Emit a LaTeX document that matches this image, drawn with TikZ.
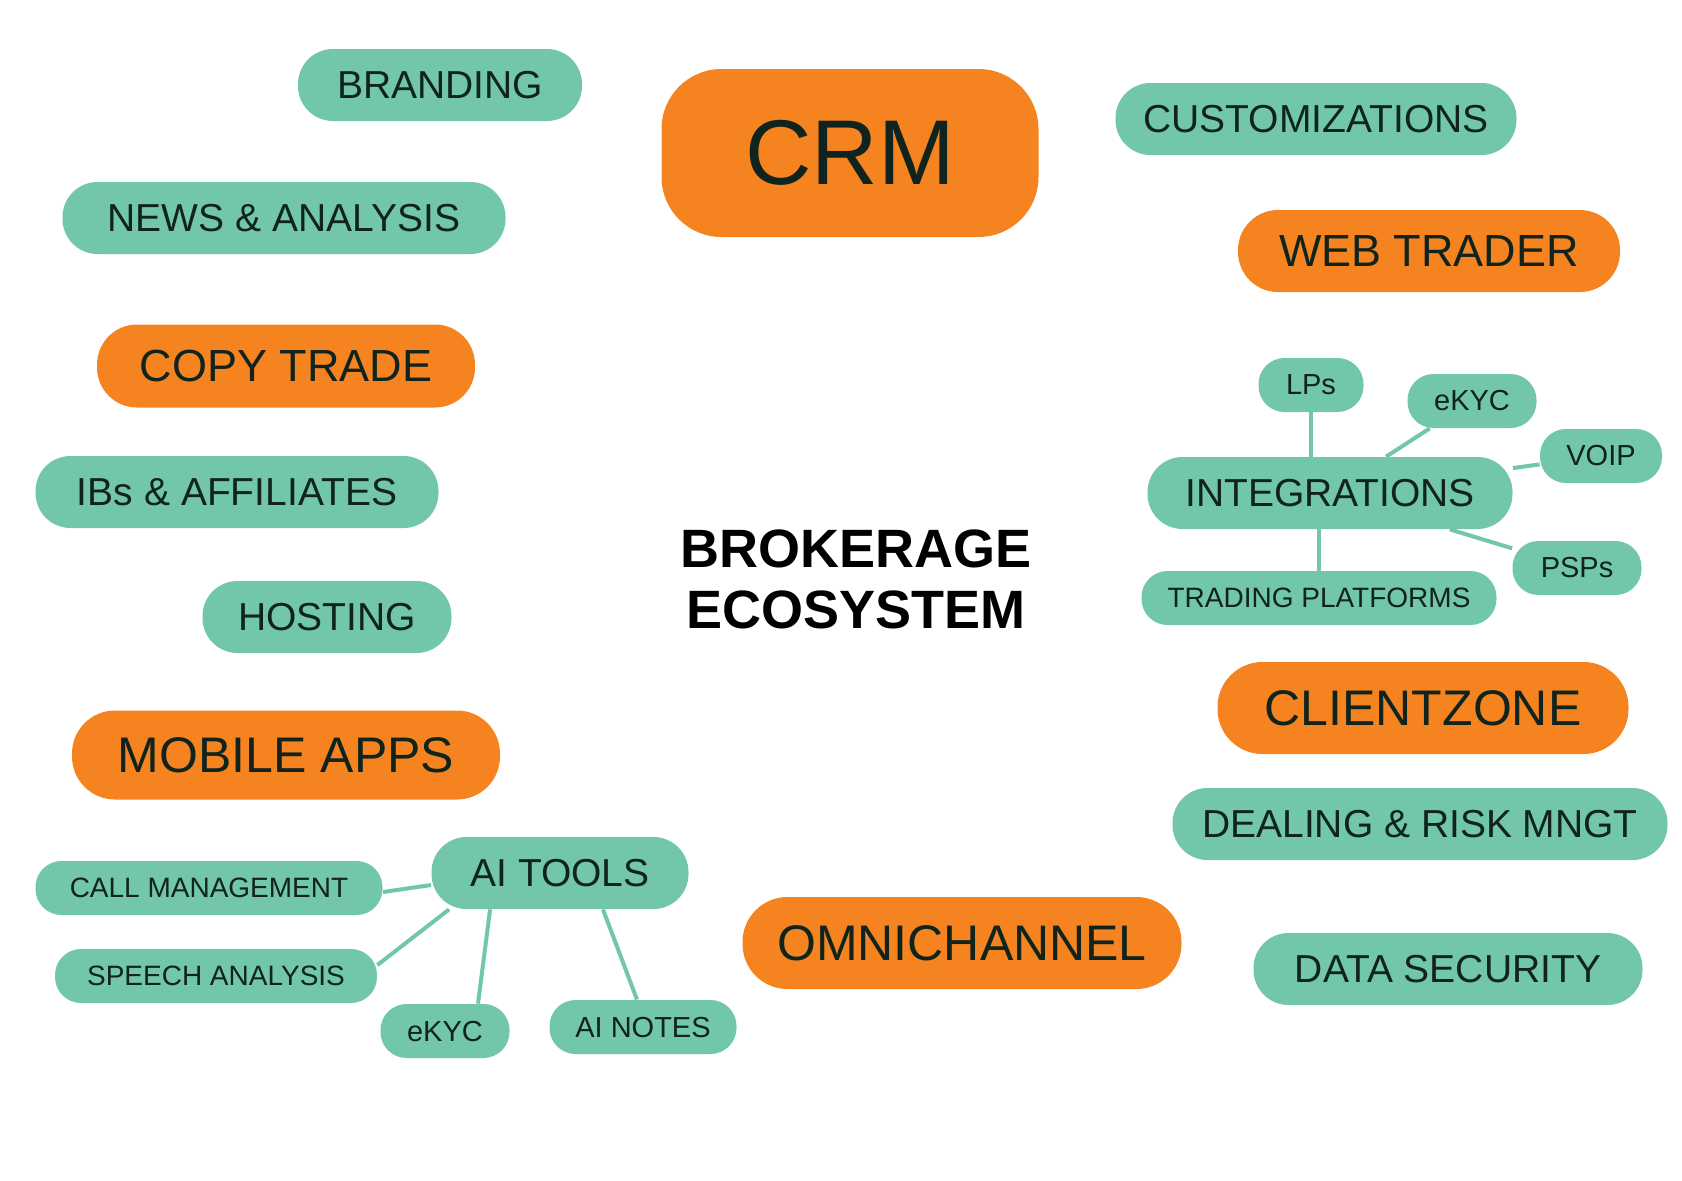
\documentclass[tikz,border=0pt]{standalone}
\usepackage{fontspec}
\setmainfont{Liberation Sans}
\usetikzlibrary{backgrounds}

\definecolor{mint}{HTML}{72C7AA}
\definecolor{tangerine}{HTML}{F58420}
\definecolor{ink}{HTML}{10231D}

\tikzset{
  pill/.style={fill=mint, text=ink, inner sep=0pt, minimum height=36pt,
    rounded corners=17.5pt, font=\fontsize{19.5}{23}\selectfont},
  tag/.style={pill, minimum height=27pt, rounded corners=13pt,
    font=\fontsize{14.5}{17}\selectfont},
  hot/.style={pill, fill=tangerine, minimum height=46pt, rounded corners=22.5pt,
    font=\fontsize{25}{30}\selectfont},
  link/.style={draw=mint, line width=2pt}
}

\begin{document}
\begin{tikzpicture}[x=0.5pt, y=-0.5pt]
\useasboundingbox (0,0) rectangle (1682,1180);

% left column
\node[pill, minimum width=142pt] (branding) at (440,85) {BRANDING};
\node[pill, minimum width=221.5pt] (news) at (284,218) {NEWS \& ANALYSIS};
\node[hot, minimum width=189pt, minimum height=41.5pt, rounded corners=20pt,
  font=\fontsize{22.5}{27}\selectfont] (copy) at (286,366) {COPY TRADE};
\node[pill, minimum width=201.5pt] (ibs) at (237,492) {IBs \& AFFILIATES};
\node[pill, minimum width=124.5pt] (hosting) at (327,617) {HOSTING};
\node[hot, minimum width=214pt, minimum height=44.5pt, rounded corners=21.5pt] (mobile) at (286,755) {MOBILE APPS};

% centre
\node[hot, minimum width=188.5pt, minimum height=84pt, rounded corners=30pt,
  font=\fontsize{46}{50}\selectfont] (crm) at (850,153) {CRM};
\node[align=center, text=black, font=\fontsize{27}{30.5}\selectfont\bfseries] (eco) at (856,579) {BROKERAGE\\ECOSYSTEM};
\node[hot, minimum width=219.5pt] (omni) at (962,943) {OMNICHANNEL};

% right column
\node[pill, minimum width=200.5pt] (custom) at (1316,119) {CUSTOMIZATIONS};
\node[hot, minimum width=191pt, minimum height=41pt, rounded corners=20pt,
  font=\fontsize{22.5}{27}\selectfont] (web) at (1429,251) {WEB TRADER};
\node[pill, minimum width=182.5pt] (integ) at (1330,493) {INTEGRATIONS};
\node[tag, minimum width=52.5pt] (lps) at (1311,385) {LPs};
\node[tag, minimum width=64.5pt] (kycA) at (1472,401) {eKYC};
\node[tag, minimum width=61pt] (voip) at (1601,456) {VOIP};
\node[tag, minimum width=64.5pt] (psps) at (1577,568) {PSPs};
\node[tag, minimum width=177.5pt, font=\fontsize{14}{17}\selectfont] (trading) at (1319,598) {TRADING PLATFORMS};
\node[hot, minimum width=205.5pt] (client) at (1423,708) {CLIENTZONE};
\node[pill, minimum width=247.5pt] (dealing) at (1420,824) {DEALING \& RISK MNGT};
\node[pill, minimum width=194.5pt] (datasec) at (1448,969) {DATA SECURITY};

% ai tools
\node[pill, minimum width=128.5pt] (aitools) at (560,873) {AI TOOLS};
\node[tag, minimum width=173.5pt, font=\fontsize{14}{17}\selectfont] (call) at (209,888) {CALL MANAGEMENT};
\node[tag, minimum width=161pt, font=\fontsize{14}{17}\selectfont] (speech) at (216,976) {SPEECH ANALYSIS};
\node[tag, minimum width=64.5pt] (kycB) at (445,1031) {eKYC};
\node[tag, minimum width=93.5pt] (notes) at (643,1027) {AI NOTES};

\begin{scope}[on background layer]
\draw[link] (lps.south) -- (lps.south |- integ.north);
\draw[link] (kycA) -- (integ);
\draw[link] (voip) -- (integ);
\draw[link] (psps) -- (integ);
\draw[link] (trading.north) -- (trading.north |- integ.south);

\draw[link] ([yshift=-2pt]call.east) -- ([yshift=-6pt]aitools.west);
\draw[link] ([yshift=5.5pt]speech.east) -- ([xshift=9pt]aitools.south west);
\draw[link] ([xshift=16.5pt]kycB.north) -- ([xshift=29.5pt]aitools.south west);
\draw[link] ([xshift=-3pt]notes.north) -- ([xshift=21.5pt]aitools.south);
\end{scope}

\end{tikzpicture}
\end{document}
